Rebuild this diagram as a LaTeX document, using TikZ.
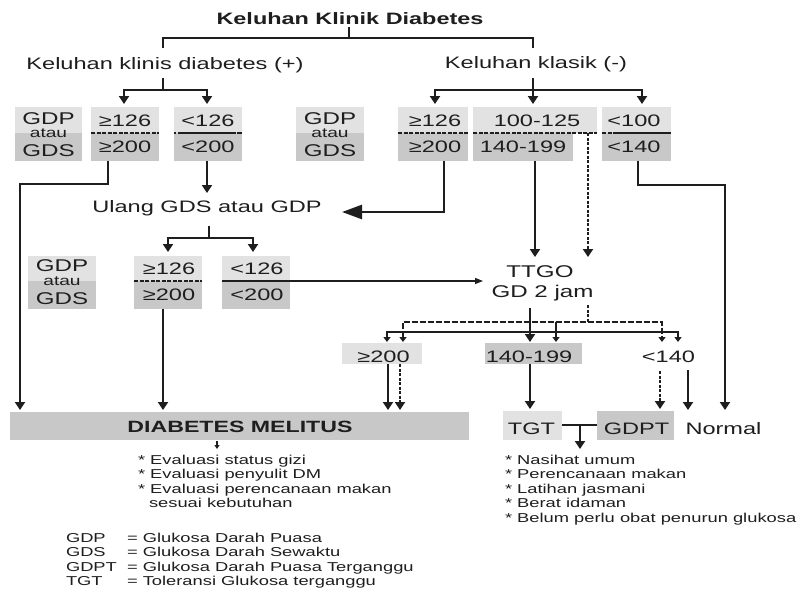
\documentclass[tikz,border=0pt]{standalone}
\usepackage{fontspec}
\setmainfont[FakeStretch=1.42]{Liberation Sans}
\usetikzlibrary{arrows.meta}
\definecolor{lt}{HTML}{E2E2E2}
\definecolor{dk}{HTML}{C8C8C8}
\definecolor{ink}{HTML}{1E1E1E}
\newcommand{\myfs}[1]{\fontsize{#1}{#1}\selectfont}
\tikzset{
  every node/.style={text=ink, inner sep=0pt, outer sep=0pt},
  box/.style args={#1/#2/#3}{fill=#1, anchor=north west, minimum width=#2, minimum height=#3},
  big/.style={anchor=base, font=\myfs{16.6}},
  bigb/.style={anchor=base, font=\bfseries\myfs{16.5}},
  num/.style={anchor=base, font=\myfs{16.6}},
  abbr/.style={anchor=base, font=\myfs{17}},
  atau/.style={anchor=base, font=\myfs{13.5}},
  small/.style={anchor=base west, font=\myfs{12.9}},
  ln/.style={draw=ink, line width=2.6pt},
  ar/.style={ln, -{Triangle[width=10pt,length=8pt]}},
  arb/.style={draw=ink, line width=2.2pt, {Triangle[width=10pt,length=8pt]}-{Triangle[width=10pt,length=8pt]}},
  dar/.style={ar, dash pattern=on 3pt off 1.5pt},
  sln/.style={draw=ink, line width=1.7pt},
  sar/.style={sln, -{Triangle[width=7pt,length=5pt]}},
  sarb/.style={sln, {Triangle[width=7pt,length=5pt]}-{Triangle[width=7pt,length=5pt]}},
  bigar/.style={ln, -{Triangle[width=14pt,length=20pt]}},
  thinar/.style={draw=ink, line width=1.3pt, -{Triangle[width=6pt,length=8pt]}},
  tinyar/.style={draw=ink, line width=1.3pt, -{Triangle[width=5pt,length=4pt]}},
  split/.style={draw=ink, line width=1.7pt, dash pattern=on 4pt off 1.5pt}
}
\begin{document}
\begin{tikzpicture}[x=1pt,y=-1pt]
\useasboundingbox (0,0) rectangle (798,590);
\fill[white] (0,0) rectangle (798,590);

% ---------- boxes ----------
% row 1
\node[box={lt/67pt/26pt}] (L1gt) at (15,107) {};
\node[box={dk/67pt/28pt}] (L1gb) at (15,133) {};
\node[box={lt/68pt/26pt}] (L1at) at (91,107) {};
\node[box={dk/68pt/28pt}] (L1ab) at (91,133) {};
\node[box={lt/68pt/26pt}] (L1bt) at (174,107) {};
\node[box={dk/68pt/28pt}] (L1bb) at (174,133) {};
\node[box={lt/68pt/26pt}] (R1gt) at (296,107) {};
\node[box={dk/68pt/28pt}] (R1gb) at (296,133) {};
\node[box={lt/70pt/26pt}] (R1at) at (398,107) {};
\node[box={dk/70pt/28pt}] (R1ab) at (398,133) {};
\node[box={lt/124pt/26pt}] (R1bt) at (473,107) {};
\node[box={dk/100pt/28pt}] (R1bb) at (473,133) {};
\node[box={lt/69pt/26pt}] (R1ct) at (602,107) {};
\node[box={dk/69pt/28pt}] (R1cb) at (602,133) {};
% row 2
\node[box={lt/68pt/25pt}] (L2gt) at (28,256) {};
\node[box={dk/68pt/28pt}] (L2gb) at (28,281) {};
\node[box={lt/68pt/25pt}] (L2at) at (134,256) {};
\node[box={dk/68pt/28pt}] (L2ab) at (134,281) {};
\node[box={lt/68pt/25pt}] (L2bt) at (222,256) {};
\node[box={dk/68pt/28pt}] (L2bb) at (222,281) {};
% row 3
\node[box={lt/80pt/21pt}] (R3a) at (342,343) {};
\node[box={dk/97pt/21pt}] (R3b) at (485,343) {};
% row 4
\node[box={dk/459pt/28pt}] (DMb) at (10,412) {};
\node[box={lt/59pt/29pt}] (TGTb) at (503,411) {};
\node[box={dk/77pt/29pt}] (GDPTb) at (597,411) {};

% ---------- texts ----------
\node[bigb] (title) at (350,24) {Keluhan Klinik Diabetes};
\node[big] (KL) at (165,69) {Keluhan klinis diabetes (+)};
\node[big] (KK) at (536,68) {Keluhan klasik (-)};

\node[abbr] (t1) at (48.5,124) {GDP};
\node[atau] (t2) at (48.5,137.3) {atau};
\node[abbr] (t3) at (48.5,156.7) {GDS};
\node[num] (t4) at (125,126) {≥126};
\node[num] (t5) at (125,152) {≥200};
\node[num] (t6) at (208,126) {<126};
\node[num] (t7) at (208,152) {<200};
\node[abbr] (t8) at (330,124) {GDP};
\node[atau] (t9) at (330,137.3) {atau};
\node[abbr] (t10) at (330,156.7) {GDS};
\node[num] (t11) at (435,126) {≥126};
\node[num] (t12) at (435,152) {≥200};
\node[num] (t13) at (537,126) {100-125};
\node[num] (t14) at (523,152) {140-199};
\node[num] (t15) at (634,126) {<100};
\node[num] (t16) at (634,152) {<140};

\node[big] (ulang) at (207,212) {Ulang GDS atau GDP};

\node[abbr] (u1) at (62,271.7) {GDP};
\node[atau] (u2) at (62,285) {atau};
\node[abbr] (u3) at (62,304) {GDS};
\node[num] (u4) at (169,274) {≥126};
\node[num] (u5) at (169,300.7) {≥200};
\node[num] (u6) at (257,274) {<126};
\node[num] (u7) at (257,300.7) {<200};

\node[abbr] (ttgo1) at (540,277) {TTGO};
\node[abbr] (ttgo2) at (542.5,297) {GD 2 jam};

\node[num] (v1) at (383.5,362) {≥200};
\node[num] (v2) at (529,362) {140-199};
\node[num] (v3) at (668.5,362) {<140};

\node[bigb, font=\bfseries\myfs{16.3}] (dm) at (240,432) {DIABETES MELITUS};
\node[big] (tgt) at (531.5,434) {TGT};
\node[big] (gdpt) at (636.5,434) {GDPT};
\node[big] (normal) at (723.5,434) {Normal};

\node[small] (a1) at (138,464.3) {* Evaluasi status gizi};
\node[small] (a2) at (138,478.8) {* Evaluasi penyulit DM};
\node[small] (a3) at (138,493.2) {* Evaluasi perencanaan makan};
\node[small] (a4) at (149,507) {sesuai kebutuhan};

\node[small] (b1) at (505,464) {* Nasihat umum};
\node[small] (b2) at (505,478.5) {* Perencanaan makan};
\node[small] (b3) at (505,493) {* Latihan jasmani};
\node[small] (b4) at (505,507.7) {* Berat idaman};
\node[small] (b5) at (505,522.5) {* Belum perlu obat penurun glukosa};

\node[small] (g1) at (66,542.7) {GDP};
\node[small] (g2) at (66,556.6) {GDS};
\node[small] (g3) at (66,571) {GDPT};
\node[small] (g4) at (66,585) {TGT};
\node[small] (h1) at (127,542.7) {= Glukosa Darah Puasa};
\node[small] (h2) at (127,556.6) {= Glukosa Darah Sewaktu};
\node[small] (h3) at (127,571) {= Glukosa Darah Puasa Terganggu};
\node[small] (h4) at (127,585) {= Toleransi Glukosa terganggu};

% ---------- split lines ----------
\draw[split] (91,133) -- (159,133);
\draw[draw=ink, line width=1.7pt, dash pattern=on 2pt off 1.5pt on 58pt off 1.5pt on 10pt] (174,133) -- (242,133);
\draw[split] (398,133) -- (468,133);
\draw[split] (473,133) -- (597,133);
\draw[draw=ink, line width=1.7pt, dash pattern=on 4pt off 1.5pt on 4pt off 1.5pt on 80pt] (602,133) -- (671,133);
\draw[split] (134,281) -- (202,281);

% ---------- connectors ----------
\coordinate (jT) at (349,38);
\draw[ln] (349,27) -- (jT);
\draw[ln, line width=2.2pt] (163,48) -- (163,38) -- (533,38) -- (533,48);

\coordinate (jKL) at (163,90);
\draw[ln] (163,78) -- (jKL);
\draw[arb] (124,104) -- (124,90) -- (207,90) -- (207,104);

\coordinate (jKK) at (533,90);
\draw[ln] (533,78) -- (jKK);
\draw[arb] (435,104) -- (435,90) -- (642,90) -- (642,104);
\draw[ar] (jKK) -- (533,104);

% left column to DM
\draw[ar] (108,161) -- (108,184) -- (20,184) -- (20,410);
% <200 to Ulang
\draw[ar] (207,161) -- (207,193);
% right >=200 to Ulang
\draw[bigar] (444,161) -- (444,212) -- (342,212);

% Ulang to row 2
\coordinate (jU) at (209,238);
\draw[ln] (209,226) -- (jU);
\draw[arb] (168,252) -- (168,238) -- (253,238) -- (253,252);

% <126/<200 row 2 to TTGO
\draw[thinar] (222,281) -- (483,281);
% >=200 row 2 to DM
\draw[ar] (163,309) -- (163,410);

% to TTGO
\draw[ar] (535,161) -- (535,257);
\draw[dar] (588,133) -- (588,257);
% <140 to Normal
\draw[ar] (638,161) -- (638,185) -- (725,185) -- (725,410);

% TTGO fan-out
\draw[sln, dash pattern=on 3pt off 1.5pt] (588,305) -- (588,322);
\draw[sarb, dash pattern=on 6pt off 2pt] (403,342) -- (403,322) -- (662,322) -- (662,342);
\draw[sar] (556,322) -- (556,342);
\draw[sarb] (387,342) -- (387,332) -- (678,332) -- (678,342);
\draw[ar] (530,308) -- (530,342);

% row 3 to row 4
\draw[ar] (388,364) -- (388,410);
\draw[dar] (400,364) -- (400,410);
\draw[ar] (530,364) -- (530,409);
\draw[dar] (660,371) -- (660,409);
\draw[ar] (688,370) -- (688,410);

% TGT - GDPT
\draw[ln] (562,425) -- (597,425);
\draw[ar] (580,425) -- (580,449);
% DM small arrow
\draw[tinyar] (217,441) -- (217,449);
\end{tikzpicture}
\end{document}
